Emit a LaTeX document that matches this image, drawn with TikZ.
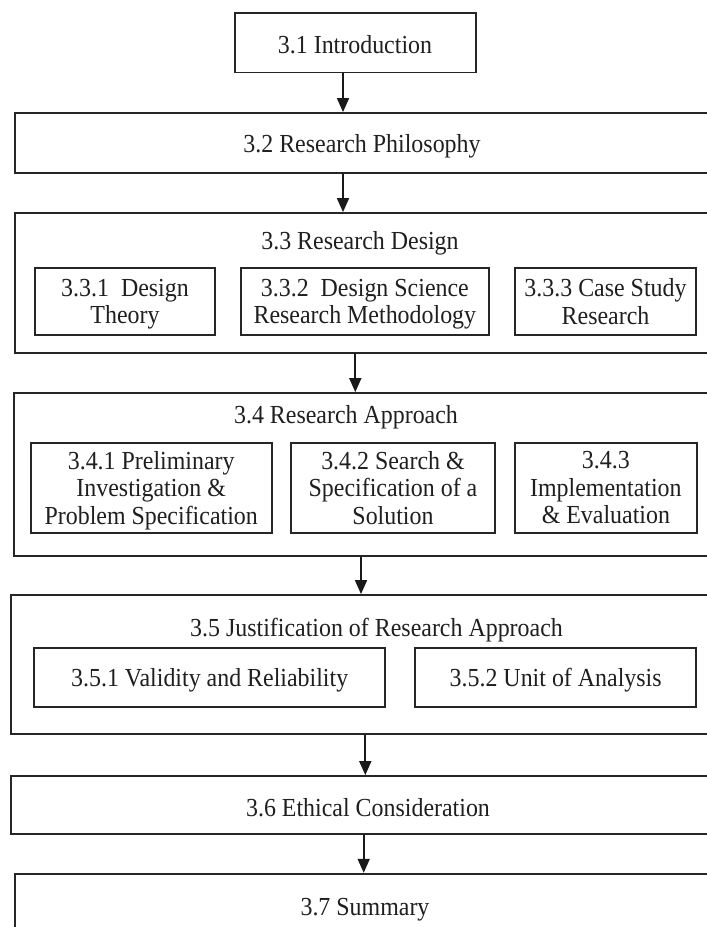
\documentclass[tikz,border=0pt]{standalone}
\usepackage{fontspec}
\setmainfont{Liberation Serif}[FakeStretch=0.92]
\usetikzlibrary{arrows.meta}

\begin{document}
\begin{tikzpicture}[x=1pt, y=-1pt,
  box/.style={draw=black!85, line width=1.8pt, inner sep=0pt, align=center,
              text depth=0pt, font=\fontsize{26}{27.5}\selectfont, text=black!88},
  title/.style={inner sep=0pt, text depth=0pt, font=\fontsize{26}{27.5}\selectfont, text=black!88},
  flow/.style={draw=black!90, line width=1.7pt, -{Triangle[length=14pt, width=12pt]}}]

\useasboundingbox (0,0) rectangle (707,927);
\clip (0,0) rectangle (707,927);
\fill[white] (0,0) rectangle (707,927);

% top box
\node[box, minimum width=240.7pt, minimum height=59.8pt] (intro) at (355.35,42.6) {};
\node[title] (introT) at (355,44) {3.1 Introduction};

% full-width chapter boxes
\node[box, minimum width=697.3pt, minimum height=59.7pt] (phil) at (363.35,142.85) {};
\node[title] (philT) at (362,143) {3.2 Research Philosophy};

\node[box, minimum width=697.3pt, minimum height=139.7pt] (design) at (363.35,282.85) {};
\node[title] (designT) at (360,240) {3.3 Research Design};

\node[box, minimum width=698pt, minimum height=163pt] (appr) at (363,474.5) {};
\node[title] (apprT) at (346,414) {3.4 Research Approach};

\node[box, minimum width=701.3pt, minimum height=138.7pt] (just) at (361.35,664.35) {};
\node[title] (justT) at (376.5,627) {3.5 Justification of Research Approach};

\node[box, minimum width=701.3pt, minimum height=57.7pt] (ethic) at (361.35,804.85) {};
\node[title] (ethicT) at (368,807) {3.6 Ethical Consideration};

\node[box, minimum width=697.3pt, minimum height=66.3pt] (summ) at (363.35,906.85) {};
\node[title] (summT) at (365,907) {3.7 Summary};

% sub-sections of 3.3
\node[box, minimum width=180pt, minimum height=67pt] (d1) at (125,301.5)
  {3.3.1\ \ Design\\Theory};
\node[box, minimum width=248.3pt, minimum height=67pt] (d2) at (364.85,301.5)
  {3.3.2\ \ Design Science\\Research Methodology};
\node[box, minimum width=181pt, minimum height=67pt] (d3) at (605.5,301.5)
  {3.3.3 Case Study\\Research};

% sub-sections of 3.4
\node[box, minimum width=241pt, minimum height=89.7pt] (a1) at (151.2,487.85)
  {3.4.1 Preliminary\\Investigation \&\\Problem Specification};
\node[box, minimum width=204pt, minimum height=89.7pt] (a2) at (393,487.85)
  {3.4.2 Search \&\\Specification of a\\Solution};
\node[box, minimum width=181.7pt, minimum height=89.7pt] (a3) at (605.85,487.85)
  {3.4.3\\Implementation\\\& Evaluation};

% sub-sections of 3.5
\node[box, minimum width=350.7pt, minimum height=59.3pt] (j1) at (209.65,677.35)
  {3.5.1 Validity and Reliability};
\node[box, minimum width=280.7pt, minimum height=59.3pt] (j2) at (555.65,677.35)
  {3.5.2 Unit of Analysis};

% arrow columns
\coordinate (k1) at (343,0);
\coordinate (k2) at (343,0);
\coordinate (k3) at (355.3,0);
\coordinate (k4) at (361,0);
\coordinate (k5) at (365.3,0);
\coordinate (k6) at (363.7,0);

\draw[flow] (intro.south -| k1) -- (phil.north -| k1);
\draw[flow] (phil.south -| k2) -- (design.north -| k2);
\draw[flow] (design.south -| k3) -- (appr.north -| k3);
\draw[flow] (appr.south -| k4) -- (just.north -| k4);
\draw[flow] (just.south -| k5) -- (ethic.north -| k5);
\draw[flow] (ethic.south -| k6) -- (summ.north -| k6);
\end{tikzpicture}
\end{document}
